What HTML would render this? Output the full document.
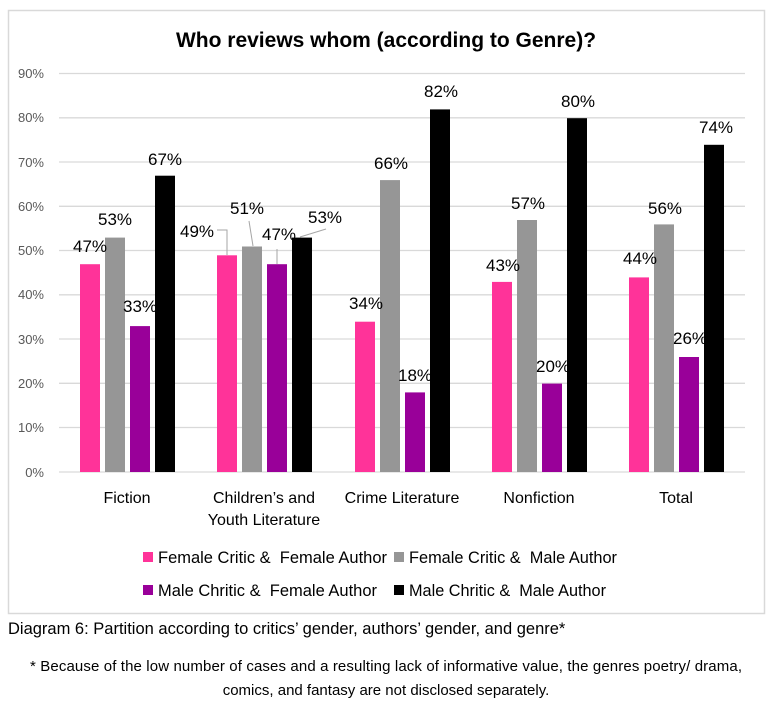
<!DOCTYPE html>
<html><head><meta charset="utf-8"><style>
body{margin:0;background:#fff;width:772px;height:718px;overflow:hidden;font-family:"Liberation Sans",Arial,sans-serif;}
text{white-space:pre;}
</style></head><body>
<svg width="772" height="718" xmlns="http://www.w3.org/2000/svg" font-family="Liberation Sans, Arial, sans-serif">
<rect x="8.5" y="10.5" width="756" height="603" fill="#fff" stroke="#d9d9d9" stroke-width="1.5"/>
<text x="386" y="47" text-anchor="middle" font-size="21" font-weight="bold">Who reviews whom (according to Genre)?</text>
<g stroke="#d9d9d9" stroke-width="1.3">
<line x1="59" x2="745" y1="73.5" y2="73.5"/><line x1="59" x2="745" y1="117.8" y2="117.8"/>
<line x1="59" x2="745" y1="162" y2="162"/><line x1="59" x2="745" y1="206.3" y2="206.3"/>
<line x1="59" x2="745" y1="250.5" y2="250.5"/><line x1="59" x2="745" y1="294.8" y2="294.8"/>
<line x1="59" x2="745" y1="339" y2="339"/><line x1="59" x2="745" y1="383.3" y2="383.3"/>
<line x1="59" x2="745" y1="427.5" y2="427.5"/><line x1="59" x2="745" y1="472" y2="472"/>
</g>
<g font-size="13" fill="#595959" text-anchor="end">
<text x="44" y="78">90%</text><text x="44" y="122">80%</text><text x="44" y="167">70%</text>
<text x="44" y="211">60%</text><text x="44" y="255">50%</text><text x="44" y="299">40%</text>
<text x="44" y="344">30%</text><text x="44" y="388">20%</text><text x="44" y="432">10%</text><text x="44" y="477">0%</text>
</g>
<g>
<rect x="80" y="264.2" width="20" height="207.8" fill="#ff3399"/><rect x="105" y="237.6" width="20" height="234.4" fill="#969696"/><rect x="130" y="326.1" width="20" height="145.9" fill="#990099"/><rect x="155" y="175.7" width="20" height="296.3" fill="#000"/>
<rect x="217" y="255.3" width="20" height="216.7" fill="#ff3399"/><rect x="242" y="246.5" width="20" height="225.5" fill="#969696"/><rect x="267" y="264.2" width="20" height="207.8" fill="#990099"/><rect x="292" y="237.6" width="20" height="234.4" fill="#000"/>
<rect x="355" y="321.7" width="20" height="150.3" fill="#ff3399"/><rect x="380" y="180.1" width="20" height="291.9" fill="#969696"/><rect x="405" y="392.4" width="20" height="79.6" fill="#990099"/><rect x="430" y="109.4" width="20" height="362.6" fill="#000"/>
<rect x="492" y="281.9" width="20" height="190.1" fill="#ff3399"/><rect x="517" y="220" width="20" height="252" fill="#969696"/><rect x="542" y="383.6" width="20" height="88.4" fill="#990099"/><rect x="567" y="118.2" width="20" height="353.8" fill="#000"/>
<rect x="629" y="277.4" width="20" height="194.6" fill="#ff3399"/><rect x="654" y="224.4" width="20" height="247.6" fill="#969696"/><rect x="679" y="357" width="20" height="115" fill="#990099"/><rect x="704" y="144.8" width="20" height="327.2" fill="#000"/>
</g>
<g stroke="#a6a6a6" stroke-width="1" fill="none">
<polyline points="217,230 227,230 227,255"/>
<line x1="249" y1="221" x2="253" y2="246"/>
<line x1="277" y1="249" x2="277" y2="264"/>
<line x1="300" y1="237" x2="326" y2="229"/>
</g>
<g font-size="17" text-anchor="middle" fill="#000">
<text x="90" y="252">47%</text><text x="115" y="225">53%</text><text x="140" y="312">33%</text><text x="165" y="165">67%</text>
<text x="197" y="237">49%</text><text x="247" y="214">51%</text><text x="279" y="240">47%</text><text x="325" y="223">53%</text>
<text x="366" y="309">34%</text><text x="391" y="169">66%</text><text x="415" y="381">18%</text><text x="441" y="97">82%</text>
<text x="503" y="271">43%</text><text x="528" y="209">57%</text><text x="553" y="372">20%</text><text x="578" y="107">80%</text>
<text x="640" y="264">44%</text><text x="665" y="214">56%</text><text x="690" y="344">26%</text><text x="716" y="133">74%</text>
</g>
<g font-size="16" text-anchor="middle" fill="#000">
<text x="127" y="503">Fiction</text>
<text x="264" y="503">Children’s and</text><text x="264" y="525">Youth Literature</text>
<text x="402" y="503">Crime Literature</text>
<text x="539" y="503">Nonfiction</text>
<text x="676" y="503">Total</text>
</g>
<g font-size="17" fill="#000">
<rect x="143" y="552" width="10" height="10" fill="#ff3399"/><text x="158" y="563" textLength="229" lengthAdjust="spacingAndGlyphs">Female Critic &amp;  Female Author</text>
<rect x="394" y="552" width="10" height="10" fill="#969696"/><text x="409" y="563" textLength="208" lengthAdjust="spacingAndGlyphs">Female Critic &amp;  Male Author</text>
<rect x="143" y="585" width="10" height="10" fill="#990099"/><text x="158" y="596" textLength="219" lengthAdjust="spacingAndGlyphs">Male Chritic &amp;  Female Author</text>
<rect x="394" y="585" width="10" height="10" fill="#000"/><text x="409" y="596" textLength="197" lengthAdjust="spacingAndGlyphs">Male Chritic &amp;  Male Author</text>
</g>
<text x="8" y="634" font-size="16.5">Diagram 6: Partition according to critics’ gender, authors’ gender, and genre*</text>
<g font-size="15" text-anchor="middle">
<text x="386" y="671" textLength="712">* Because of the low number of cases and a resulting lack of informative value, the genres poetry/ drama,</text>
<text x="386" y="695">comics, and fantasy are not disclosed separately.</text>
</g>
</svg>
</body></html>
